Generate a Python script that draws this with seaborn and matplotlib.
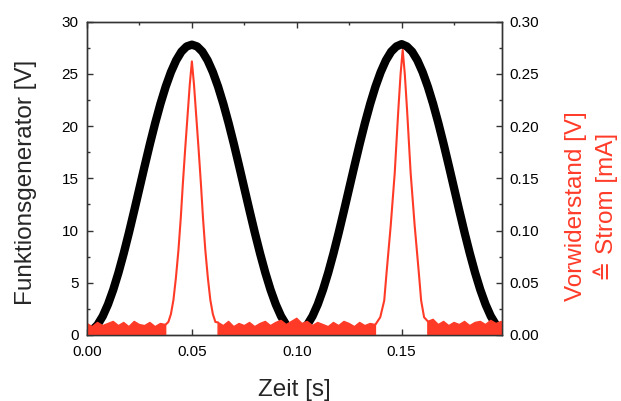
import numpy as np
import matplotlib
matplotlib.use("Agg")
import matplotlib.pyplot as plt
from matplotlib.ticker import MultipleLocator, AutoMinorLocator, FormatStrFormatter
import seaborn as sns

# ---------------- data ----------------
# common time grid [s]
t_grid = [0.0000, 0.0025, 0.0050, 0.0075, 0.0100, 0.0125, 0.0150, 0.0175, 0.0200, 0.0225,
          0.0250, 0.0275, 0.0300, 0.0325, 0.0350, 0.0375, 0.0400, 0.0425, 0.0450, 0.0475,
          0.0500, 0.0525, 0.0550, 0.0575, 0.0600, 0.0625, 0.0650, 0.0675, 0.0700, 0.0725,
          0.0750, 0.0775, 0.0800, 0.0825, 0.0850, 0.0875, 0.0900, 0.0925, 0.0950, 0.0975,
          0.1000, 0.1025, 0.1050, 0.1075, 0.1100, 0.1125, 0.1150, 0.1175, 0.1200, 0.1225,
          0.1250, 0.1275, 0.1300, 0.1325, 0.1350, 0.1375, 0.1400, 0.1425, 0.1450, 0.1475,
          0.1500, 0.1525, 0.1550, 0.1575, 0.1600, 0.1625, 0.1650, 0.1675, 0.1700, 0.1725,
          0.1750, 0.1775, 0.1800, 0.1825, 0.1850, 0.1875, 0.1900, 0.1925, 0.1950, 0.1975]

# Funktionsgenerator [V] (black trace)
generator_v = [np.nan, 0.47, 0.97, 1.80, 2.93, 4.33, 5.97, 7.81, 9.80, 11.90,
               14.05, 16.20, 18.30, 20.29, 22.13, 23.77, 25.17, 26.30, 27.13, 27.63,
               27.80, 27.63, 27.13, 26.30, 25.17, 23.77, 22.13, 20.29, 18.30, 16.20,
               14.05, 11.90, 9.80, 7.81, 5.97, 4.33, 2.93, 1.80, 0.97, 0.47,
               0.30, 0.47, 0.97, 1.80, 2.93, 4.33, 5.97, 7.81, 9.80, 11.90,
               14.05, 16.20, 18.30, 20.29, 22.13, 23.77, 25.17, 26.30, 27.13, 27.63,
               27.85, 27.63, 27.13, 26.30, 25.17, 23.77, 22.13, 20.29, 18.30, 16.20,
               14.05, 11.90, 9.80, 7.81, 5.97, 4.33, 2.93, 1.80, 0.97, 0.47]

# Vorwiderstand [V]: noisy baseline, upper envelope (NaN where the pulses are)
nan = np.nan
baseline_top = [0.011, 0.008, 0.012, 0.009, 0.011, 0.013, 0.009, 0.012, 0.008, 0.013,
                0.010, 0.009, 0.012, 0.008, 0.011, 0.010, nan, nan, nan, nan,
                nan, nan, nan, nan, nan, 0.012, 0.009, 0.013, 0.008, 0.011,
                0.009, 0.012, 0.008, 0.011, 0.013, 0.009, 0.012, 0.014, 0.010, 0.013,
                0.016, 0.011, 0.013, 0.009, 0.012, 0.010, 0.008, 0.012, 0.009, 0.013,
                0.011, 0.008, 0.012, 0.009, 0.011, 0.010, nan, nan, nan, nan,
                nan, nan, nan, nan, nan, 0.013, 0.015, 0.010, 0.013, 0.009,
                0.012, 0.010, 0.013, 0.009, 0.012, 0.013, 0.010, 0.014, 0.011, 0.013]
baseline_bottom = 0.0

# Vorwiderstand [V]: the two current pulses
pulse1_t = [0.0375, 0.0388, 0.0400, 0.0412, 0.0424, 0.0436, 0.0447, 0.0457, 0.0468, 0.0479,
            0.0490, 0.0500, 0.0510, 0.0521, 0.0532, 0.0543, 0.0553, 0.0564, 0.0576, 0.0588,
            0.0600, 0.0612, 0.0625]
pulse1_v = [0.010, 0.0125, 0.020, 0.0335, 0.055, 0.0815, 0.112, 0.145, 0.178, 0.209,
            0.240, 0.262, 0.240, 0.209, 0.178, 0.145, 0.112, 0.0815, 0.055, 0.0335,
            0.020, 0.0125, 0.012]
pulse2_t = [0.1375, 0.1398, 0.1417, 0.1428, 0.1448, 0.1467, 0.1484, 0.1495, 0.1505, 0.1515,
            0.1526, 0.1543, 0.1562, 0.1582, 0.1593, 0.1607, 0.1625]
pulse2_v = [0.010, 0.017, 0.033, 0.0594, 0.105, 0.155, 0.215, 0.250, 0.273, 0.250,
            0.215, 0.155, 0.105, 0.0594, 0.033, 0.017, 0.013]

x_ticks = [0.00, 0.05, 0.10, 0.15]

# ---------------- styling ----------------
sns.set_theme(style="ticks")
plt.rcParams["font.family"] = ["Liberation Sans", "DejaVu Sans"]
RED = "#ff3b28"
SPINE = "#333333"

fig = plt.figure(figsize=(6.21, 4.01), dpi=100)
ax = fig.add_axes([0.1401, 0.1646, 0.6688, 0.7813])
ax2 = ax.twinx()

sns.lineplot(x=t_grid, y=generator_v, ax=ax, color="black", linewidth=6.0,
             estimator=None, sort=False)

ax2.fill_between(t_grid, baseline_bottom, baseline_top,
                 color=RED, linewidth=1.0, edgecolor=RED)
sns.lineplot(x=pulse1_t, y=pulse1_v, ax=ax2, color=RED, linewidth=1.5,
             estimator=None, sort=False)
sns.lineplot(x=pulse2_t, y=pulse2_v, ax=ax2, color=RED, linewidth=1.5,
             estimator=None, sort=False)

ax.set_xlim(0, 0.198)
ax.set_ylim(0, 30)
ax2.set_ylim(0, 0.30)

ax.set_xticks(x_ticks)
ax.xaxis.set_major_formatter(FormatStrFormatter("%.2f"))
ax.xaxis.set_minor_locator(AutoMinorLocator(2))
ax.yaxis.set_major_locator(MultipleLocator(5))
ax.yaxis.set_minor_locator(AutoMinorLocator(2))
ax2.yaxis.set_major_locator(MultipleLocator(0.05))
ax2.yaxis.set_minor_locator(AutoMinorLocator(2))
ax2.yaxis.set_major_formatter(FormatStrFormatter("%.2f"))

for a in (ax, ax2):
    for s in a.spines.values():
        s.set_color(SPINE)
        s.set_linewidth(1.0)

ax.tick_params(axis="both", which="both", direction="in", top=True, right=False,
               color=SPINE, labelsize=11, labelcolor="black")
ax.tick_params(axis="x", which="major", length=4.5, width=1.0, pad=7)
ax.tick_params(axis="x", which="minor", length=2.5, width=1.0)
ax.tick_params(axis="y", which="major", length=4.5, width=1.0, pad=6)
ax.tick_params(axis="y", which="minor", length=2.5, width=1.0)
ax2.tick_params(axis="y", which="both", direction="in", color=SPINE,
                labelsize=11, labelcolor="black", pad=5)
ax2.tick_params(axis="y", which="major", length=4.5, width=1.0)
ax2.tick_params(axis="y", which="minor", length=2.5, width=1.0)

ax.set_xlabel("Zeit [s]", fontsize=17.5)
ax.set_ylabel("Funktionsgenerator [V]", fontsize=17.5)
ax2.set_ylabel("Vorwiderstand [V]\n≙ Strom [mA]", fontsize=17.5, color=RED,
               linespacing=1.35)
ax.xaxis.set_label_coords(0.5, -0.14)
ax.yaxis.set_label_coords(-0.12, 0.486)
ax2.yaxis.set_label_coords(1.15, 0.41)

fig.savefig("out.png", dpi=100)
